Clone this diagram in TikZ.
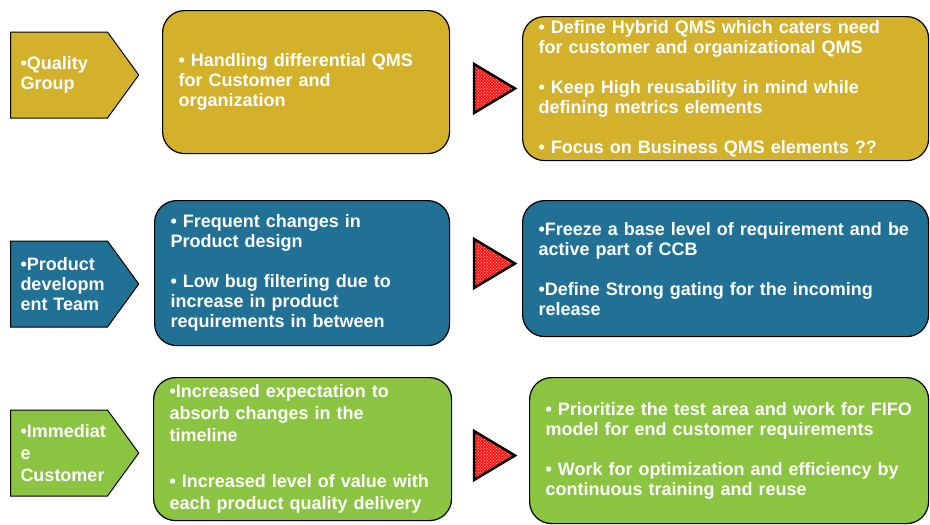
\documentclass[tikz,border=0pt]{standalone}
\usepackage{fontspec}
\setmainfont{Liberation Sans}
\usetikzlibrary{shapes.symbols,patterns}
\definecolor{qgold}{RGB}{212,177,43}
\definecolor{pblue}{RGB}{33,112,150}
\definecolor{cgreen}{RGB}{138,196,64}
\tikzset{
  grp/.style={signal, signal to=east, signal pointer angle=108, draw=black, line width=1pt,
    fill=#1, text=white, font=\bfseries\fontsize{18}{20}\selectfont, align=left,
    text width=77pt, inner xsep=10pt, minimum width=128pt, minimum height=86pt, anchor=west},
  box/.style={rectangle, rounded corners=22pt, draw=black, line width=1.2pt, fill=#1,
    text=white, font=\bfseries\fontsize{18}{20}\selectfont, align=left, inner xsep=16pt,
    anchor=north west},
  tri/.style={draw=black, line width=2.5pt, line join=miter, preaction={fill=red!90!white},
    pattern=crosshatch dots, pattern color=pink}
}
\begin{document}
\begin{tikzpicture}[x=1pt,y=-1pt]
  \useasboundingbox (0,0) rectangle (930,525);
  \node[grp=qgold] (qg) at (10,75) {•Quality\\ Group};
  \node[grp=pblue] (pdt) at (10,284) {•Product\\ developm\\ \mbox{ent Team}};
  \node[grp=cgreen, font=\bfseries\fontsize{18}{22}\selectfont] (ic) at (10,453) {•Immediat\\ e\\ Customer};

  \node[box=qgold, text width=255pt, minimum width=287pt, minimum height=143pt] (qgnow) at (162,10)
    {• Handling differential QMS\\ for Customer and\\ organization};
  \node[box=pblue, text width=263pt, minimum width=295pt, minimum height=145pt] (pdtnow) at (154,200)
    {• Frequent changes in\\ Product design\\[20pt] • Low bug filtering due to\\ increase in product\\ requirements in between};
  \node[box=cgreen, text width=266pt, minimum width=298pt, minimum height=143pt,
    font=\bfseries\fontsize{18}{22}\selectfont] (icnow) at (153,377)
    {•Increased expectation to\\ absorb changes in the\\ timeline\\[24pt] • Increased level of value with\\ each product quality delivery};

  \node[box=qgold, text width=374pt, minimum width=406pt, minimum height=144pt] (qgto) at (522,16)
    {• Define Hybrid QMS which caters need\\ for customer and organizational QMS\\[20pt] • Keep High reusability in mind while\\ defining metrics elements\\[20pt] • Focus on Business QMS elements ??};
  \node[box=pblue, text width=374pt, minimum width=406pt, minimum height=136pt] (pdtto) at (522,200)
    {•Freeze a base level of requirement and be\\ active part of CCB\\[20pt] •Define Strong gating for the incoming\\ release};
  \node[box=cgreen, text width=367pt, minimum width=399pt, minimum height=146pt] (icto) at (529,377)
    {• Prioritize the test area and work for FIFO\\ model for end customer requirements\\[20pt] • Work for optimization and efficiency by\\ continuous training and reuse};

  \coordinate (t1) at (474,64);
  \coordinate (t2) at (474,239);
  \coordinate (t3) at (474,431);
  \foreach \t in {t1,t2,t3}
    \draw[tri] (\t) -- ++(41,24.5) -- ++(-41,24.5) -- cycle;
\end{tikzpicture}
\end{document}
